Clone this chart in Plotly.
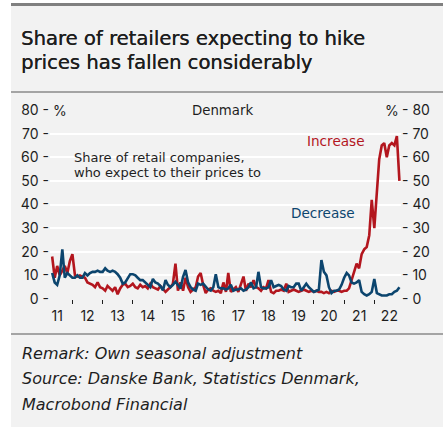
import plotly.graph_objects as go
import pandas as pd

# Monthly data, May 2011 - Nov 2022 (share of retail companies, %)
dates = pd.date_range("2011-05-01", "2022-11-01", freq="MS")

increase = [
    # 2011 May-Dec
    18, 9, 14, 10, 12, 14, 11, 16,
    # 2012
    19, 10, 9.5, 10, 9.5, 9, 7, 6.5, 6, 5, 7, 5,
    # 2013
    4.5, 3.5, 5.5, 4.5, 3.5, 5, 2, 4.5, 6, 6.5, 5, 5.5,
    # 2014
    6.5, 5, 4.5, 6, 5, 5.5, 4.5, 6.5, 5, 4.5, 4, 5.5,
    # 2015
    4, 3, 4, 5, 6.5, 15, 3.5, 7, 3.5, 9, 5, 3,
    # 2016
    4, 5, 9.5, 11, 6, 2.5, 4, 4.5, 3.5, 3, 3.5, 2.5,
    # 2017
    7, 3, 11, 3, 4, 5, 3, 6.5, 9.5, 3.5, 6.5, 5,
    # 2018
    8, 5, 4.5, 3.5, 5, 4.5, 8, 3, 2.5, 3.5, 3.5, 4,
    # 2019
    3.5, 6.5, 3, 3.5, 4, 3.5, 3, 3.5, 4, 3.5, 3, 3.5,
    # 2020
    3, 3.5, 3, 3, 2.5, 3, 2.5, 3.5, 3, 3.5, 3.5, 3,
    # 2021
    3.5, 3.5, 4.5, 8, 11, 15, 13, 19, 21, 22, 27, 42,
    # 2022 Jan-Nov
    30, 45, 59, 65, 66, 60, 65, 66, 65, 69, 50,
]

decrease = [
    # 2011 May-Dec
    11, 7, 6, 10, 21, 9, 11, 10,
    # 2012
    9, 9, 10, 9, 9, 11, 10, 11, 11.5, 11.5, 12, 11.5,
    # 2013
    11.5, 13, 12, 11.5, 12, 11.5, 10.5, 9, 6.5, 7, 9, 10.5,
    # 2014
    10.5, 10, 9, 8, 8, 7, 6, 5, 8.5, 7, 6.5, 5.5,
    # 2015
    3.7, 8, 6, 5, 6, 7.3, 6, 4.4, 9.4, 12.3, 7, 5,
    # 2016
    4, 3.5, 6.5, 6, 6.5, 5, 4, 3.5, 5, 10.5, 5, 4.5,
    # 2017
    4.5, 4, 4.5, 6, 3.5, 4, 4, 4.5, 3.5, 4, 5, 7,
    # 2018
    4.5, 5, 11.5, 5, 4.5, 4.5, 5, 8, 5, 5.5, 6, 5.5,
    # 2019
    4, 3.5, 5.5, 5, 5, 6.5, 6.5, 3.5, 5, 6.5, 5, 4,
    # 2020
    3, 3.5, 4, 16.5, 11.5, 10, 5, 2.5, 3.5, 3.5, 4, 6,
    # 2021
    9, 11, 10, 7, 6.5, 7, 8, 3, 2, 1.5, 2, 3,
    # 2022 Jan-Nov
    8.5, 2.5, 2, 1.5, 1.5, 1.5, 2, 2, 3, 3.5, 5,
]

y_ticks = [0, 10, 20, 30, 40, 50, 60, 70, 80]
left_labels = [f"{v} -" for v in y_ticks]
right_labels = [f"- {v}" for v in y_ticks]

RED = "#b3161e"
BLUE = "#0c456e"
BG = "#f2f2f2"
TXT = "#1e1e1e"
FONT = "Inter"
TFONT = "DejaVu Sans"

W, H = 443, 427
L, R, T, B = 50, 42, 110, 128
PW, PH = W - L - R, H - T - B


def px(x):
    return (x - L) / PW


def py(y):
    return (H - B - y) / PH


fig = go.Figure()
fig.add_trace(go.Scatter(x=dates, y=increase, mode="lines", name="Increase",
                         line=dict(color=RED, width=2.6), hoverinfo="skip"))
fig.add_trace(go.Scatter(x=dates, y=decrease, mode="lines", name="Decrease",
                         line=dict(color=BLUE, width=2.6), hoverinfo="skip"))

fig.update_layout(
    width=W, height=H,
    margin=dict(l=L, r=R, t=T, b=B, pad=0),
    paper_bgcolor=BG, plot_bgcolor=BG,
    showlegend=False,
    font=dict(family=FONT, color=TXT, size=14),
    xaxis=dict(
        type="date",
        range=["2011-04-05", "2022-11-20"],
        dtick="M12", tick0="2011-01-01",
        ticklabelmode="period", tickformat="%y",
        ticks="outside", ticklen=4, tickwidth=1, tickcolor=TXT,
        showgrid=False, zeroline=False, showline=False,
        tickfont=dict(size=14, family=FONT, color=TXT),
    ),
    yaxis=dict(
        range=[0, 80], tickvals=y_ticks, ticktext=left_labels,
        showgrid=True, gridcolor="white", gridwidth=1.5,
        zeroline=False, showline=False, ticks="",
        tickfont=dict(size=14, family=FONT, color=TXT),
    ),
    yaxis2=dict(
        range=[0, 80], tickvals=y_ticks, ticktext=right_labels,
        overlaying="y", side="right", showgrid=False, zeroline=False,
        showline=False, ticks="",
        tickfont=dict(size=14, family=FONT, color=TXT),
    ),
)

# invisible helper so the right axis is drawn
fig.add_trace(go.Scatter(x=[dates[0]], y=[None], yaxis="y2", showlegend=False,
                         hoverinfo="skip"))

shapes = [
    # white page edge left and top
    dict(type="rect", xref="paper", yref="paper", x0=px(-5), x1=px(11),
         y0=py(440), y1=py(-5), fillcolor="white", line_width=0, layer="below"),
    dict(type="rect", xref="paper", yref="paper", x0=px(-5), x1=px(450),
         y0=py(3), y1=py(-5), fillcolor="white", line_width=0, layer="below"),
    # top dark bar
    dict(type="rect", xref="paper", yref="paper", x0=px(11), x1=px(450),
         y0=py(6), y1=py(3), fillcolor="#808080", line_width=0),
    # separators
    dict(type="line", xref="paper", yref="paper", x0=px(11), x1=px(450),
         y0=py(92), y1=py(92), line=dict(color="#8a8a8a", width=1.5)),
    dict(type="line", xref="paper", yref="paper", x0=px(11), x1=px(450),
         y0=py(334), y1=py(334), line=dict(color="#8a8a8a", width=1.5)),
]
fig.update_layout(shapes=shapes)

ann = [
    dict(text="Share of retailers expecting to hike", x=px(19), y=py(38.5),
         xanchor="left", yanchor="middle",
         font=dict(size=19.6, family=TFONT, color=TXT, shadow="0.3px 0px 0px #1e1e1e")),
    dict(text="prices has fallen considerably", x=px(19), y=py(62.5),
         xanchor="left", yanchor="middle",
         font=dict(size=19.6, family=TFONT, color=TXT, shadow="0.3px 0px 0px #1e1e1e")),
    dict(text="Denmark", x=px(222), y=py(110), xanchor="center", yanchor="middle",
         font=dict(size=13.3, family=TFONT, color=TXT)),
    dict(text="%", x=px(51), y=py(110), xanchor="left", yanchor="middle",
         font=dict(size=14, family=FONT, color=TXT)),
    dict(text="%", x=px(401), y=py(110), xanchor="right", yanchor="middle",
         font=dict(size=14, family=FONT, color=TXT)),
    dict(text="Share of retail companies,", x=px(72), y=py(157),
         xanchor="left", yanchor="middle",
         font=dict(size=13, family=TFONT, color=TXT)),
    dict(text="who expect to their prices to", x=px(72), y=py(172.5),
         xanchor="left", yanchor="middle",
         font=dict(size=13, family=TFONT, color=TXT)),
    dict(text="Increase", x=px(336), y=py(141), xanchor="center", yanchor="middle",
         font=dict(size=13.6, family=TFONT, color=RED)),
    dict(text="Decrease", x=px(322.5), y=py(213), xanchor="center", yanchor="middle",
         font=dict(size=13.6, family=TFONT, color=BLUE)),
    dict(text="<i>Remark: Own seasonal adjustment</i>", x=px(20), y=py(353),
         xanchor="left", yanchor="middle", font=dict(size=16, family=TFONT, color=TXT)),
    dict(text="<i>Source: Danske Bank, Statistics Denmark,</i>", x=px(20), y=py(378.5),
         xanchor="left", yanchor="middle", font=dict(size=16, family=TFONT, color=TXT)),
    dict(text="<i>Macrobond Financial</i>", x=px(20), y=py(404),
         xanchor="left", yanchor="middle", font=dict(size=16, family=TFONT, color=TXT)),
]
for a in ann:
    a.update(xref="paper", yref="paper", showarrow=False)
fig.update_layout(annotations=ann)

fig.write_html("out.html", config={"displayModeBar": False},
               post_script="document.body.style.margin='0';")
